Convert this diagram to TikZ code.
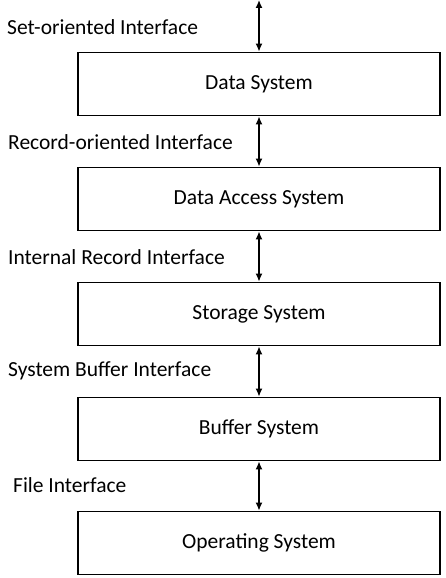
\documentclass[tikz,border=0pt]{standalone}
\usepackage{fontspec}
\setmainfont{Carlito}
\usetikzlibrary{arrows.meta}
\begin{document}
\begin{tikzpicture}[x=1pt,y=1pt,
  layer/.style={draw=black,line width=1.8pt,minimum width=362pt,minimum height=63pt,inner sep=0pt,font=\fontsize{21.5}{24}\selectfont},
  iflabel/.style={anchor=west,inner sep=0pt,font=\fontsize{21.5}{24}\selectfont},
  link/.style={line width=1.4pt,{Latex[length=8pt,width=7pt]}-{Latex[length=8pt,width=7pt]}}]
\useasboundingbox (0,0) rectangle (446,-578);
\node[layer] (ds) at (259,-84) {Data System};
\node[layer] (das) at (259,-199) {Data Access System};
\node[layer] (ss) at (259,-314) {Storage System};
\node[layer] (bs) at (259,-429) {Buffer System};
\node[layer] (os) at (259,-543) {Operating System};
\coordinate (top) at (259,0);
\node[iflabel] (l1) at (7,-27) {Set-oriented Interface};
\node[iflabel] (l2) at (8,-142) {Record-oriented Interface};
\node[iflabel] (l3) at (8,-257) {Internal Record Interface};
\node[iflabel] (l4) at (8,-371) {System Buffer Interface};
\node[iflabel] (l5) at (13,-485) {File Interface};
\draw[link] (top) -- (ds.north);
\draw[link] (ds.south) -- (das.north);
\draw[link] (das.south) -- (ss.north);
\draw[link] (ss.south) -- (bs.north);
\draw[link] (bs.south) -- (os.north);
\end{tikzpicture}
\end{document}
